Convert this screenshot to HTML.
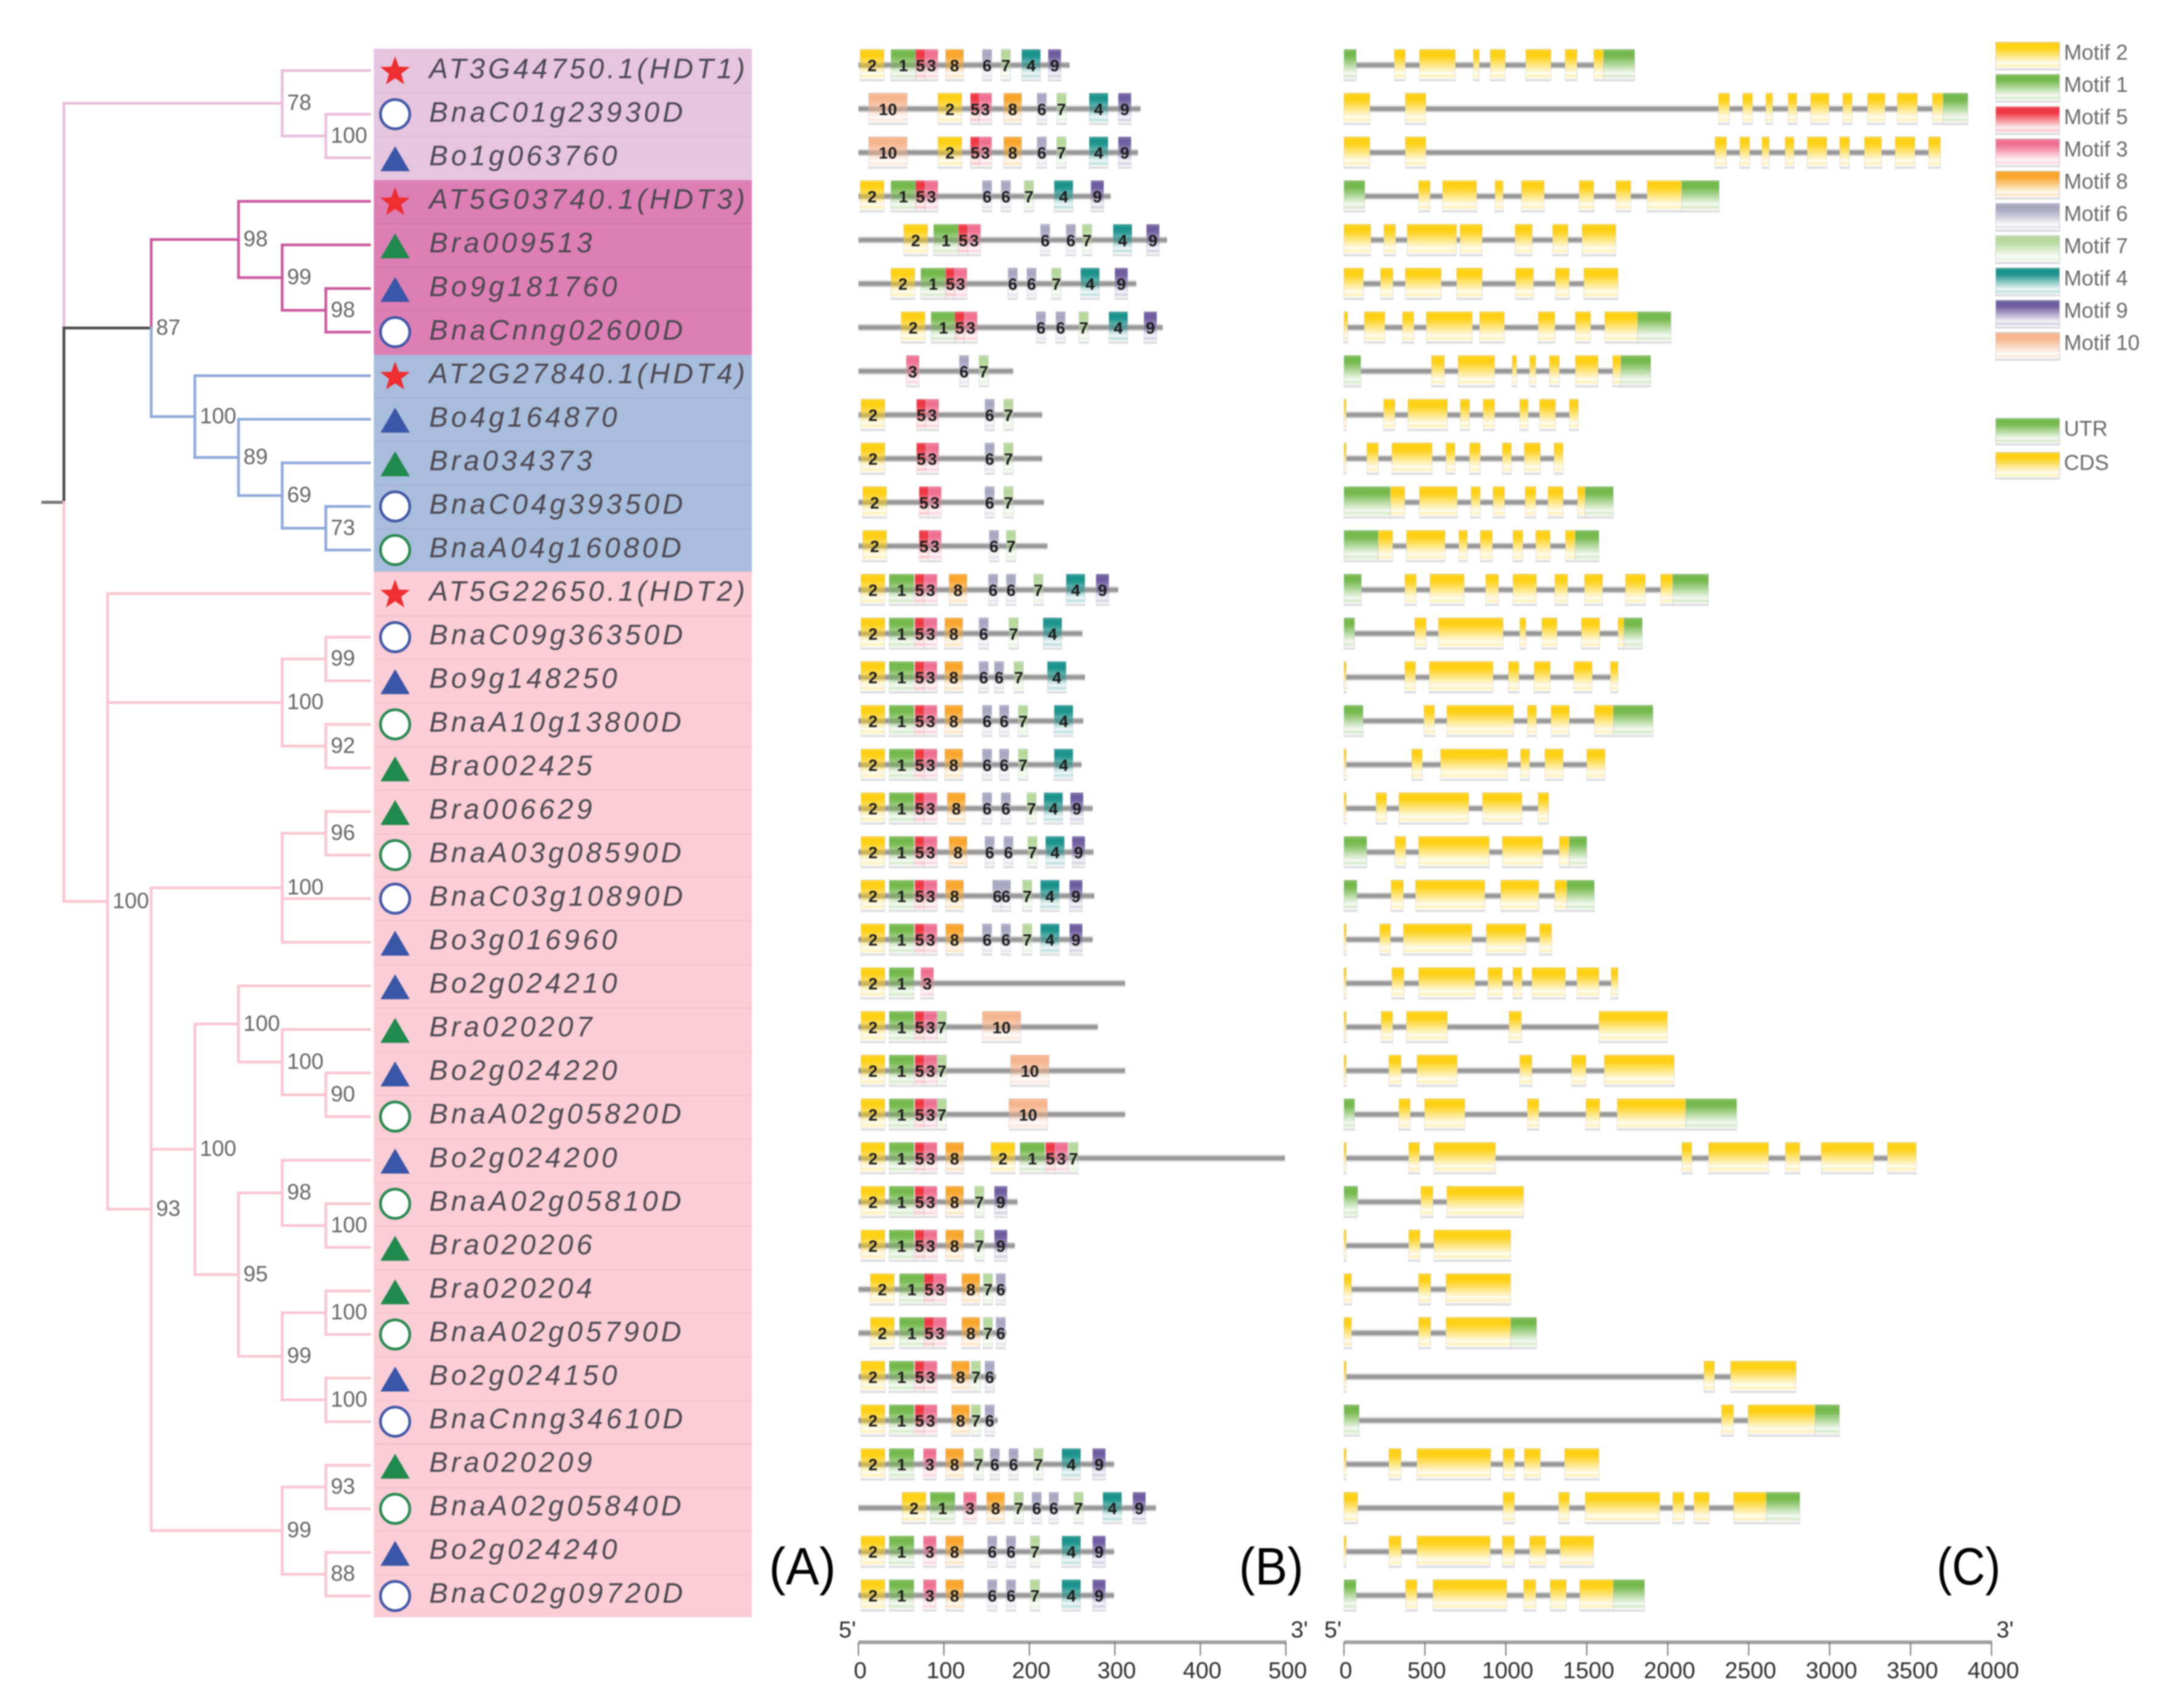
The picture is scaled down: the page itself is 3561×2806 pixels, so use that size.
<!DOCTYPE html>
<html lang="en">
<head>
<meta charset="utf-8">
<title>HDT gene family phylogeny, motifs and gene structure</title>
<style>
html,body{margin:0;padding:0;background:#fff;}
body{width:3561px;height:2806px;overflow:hidden;}
svg{display:block;filter:blur(1.1px);font-family:"Liberation Sans",Arial,sans-serif;}
</style>
</head>
<body>
<svg id="figure" xmlns="http://www.w3.org/2000/svg" width="3561" height="2806" viewBox="0 0 3561 2806">
  <defs id="grads"></defs>
  <rect x="0" y="0" width="3561" height="2806" fill="#ffffff"/>
  <g>
    <rect x="614" y="80" width="621" height="216" fill="#e6c5de"/>
    <rect x="614" y="296" width="621" height="287" fill="#dd7fb4"/>
    <rect x="614" y="583" width="621" height="356" fill="#a8bcdc"/>
    <rect x="614" y="939" width="621" height="1718" fill="#fbcdd6"/>
  </g>
  <g id="tree"></g>
  <g id="labels"></g>
  <g id="motifs"></g>
  <g id="exons"></g>
  <g id="axes"></g>
  <g id="legend"></g>
  <g fill="#000" font-size="86">
    <text x="1263" y="2603" textLength="110" lengthAdjust="spacingAndGlyphs">(A)</text>
    <text x="2035" y="2603" textLength="106" lengthAdjust="spacingAndGlyphs">(B)</text>
    <text x="3181" y="2603" textLength="105" lengthAdjust="spacingAndGlyphs">(C)</text>
  </g>
</svg>
<script>
/* ---------- data ---------- */
const geneNames = ["AT3G44750.1(HDT1)","BnaC01g23930D","Bo1g063760","AT5G03740.1(HDT3)","Bra009513","Bo9g181760","BnaCnng02600D","AT2G27840.1(HDT4)","Bo4g164870","Bra034373","BnaC04g39350D","BnaA04g16080D","AT5G22650.1(HDT2)","BnaC09g36350D","Bo9g148250","BnaA10g13800D","Bra002425","Bra006629","BnaA03g08590D","BnaC03g10890D","Bo3g016960","Bo2g024210","Bra020207","Bo2g024220","BnaA02g05820D","Bo2g024200","BnaA02g05810D","Bra020206","Bra020204","BnaA02g05790D","Bo2g024150","BnaCnng34610D","Bra020209","BnaA02g05840D","Bo2g024240","BnaC02g09720D"];

/* Tree: [depth, bootstrap, clade, children]; a bare number is a gene row */
const tree = [0,'','h1',[
  [5,'78','h1',[0,[6,'100','h1',[1,2]]]],
  [2,'87','dk',[
    [4,'98','h3',[3,[5,'99','h3',[4,[6,'98','h3',[5,6]]]]]],
    [3,'100','h4',[7,[4,'89','h4',[8,[5,'69','h4',[9,[6,'73','h4',[10,11]]]]]]]]
  ]],
  [1,'100','h2',[12,
    [5,'100','h2',[[6,'99','h2',[13,14]],[6,'92','h2',[15,16]]]],
    [2,'93','h2',[
      [5,'100','h2',[[6,'96','h2',[17,18]],19,20]],
      [3,'100','h2',[
        [4,'100','h2',[21,[5,'100','h2',[22,[6,'90','h2',[23,24]]]]]],
        [4,'95','h2',[
          [5,'98','h2',[25,[6,'100','h2',[26,27]]]],
          [5,'99','h2',[[6,'100','h2',[28,29]],[6,'100','h2',[30,31]]]]
        ]]
      ]],
      [5,'99','h2',[[6,'93','h2',[32,33]],[6,'88','h2',[34,35]]]]
    ]]
  ]]
]];

/* protein lengths in aa */
const proteinLengths = [247,330,327,295,361,325,356,181,215,215,217,221,304,262,265,263,261,274,275,276,274,312,280,312,312,499,186,183,173,173,161,163,299,348,299,299];
/* motif id -> motif length in aa */
const motifLengths = {1:29,2:28,3:15,4:22,5:11,6:11,7:11,8:21,9:15,10:45};
/* [motif, start aa] per gene */
const motifHits = [
 [[2,2],[1,38],[5,67],[3,78],[8,102],[6,145],[7,167],[4,191],[9,222]],
 [[10,12],[2,93],[5,131],[3,141],[8,170],[6,209],[7,232],[4,270],[9,304]],
 [[10,12],[2,93],[5,131],[3,141],[8,170],[6,209],[7,232],[4,270],[9,304]],
 [[2,2],[1,38],[5,67],[3,78],[6,145],[6,167],[7,194],[4,229],[9,272]],
 [[2,53],[1,88],[5,117],[3,128],[6,213],[6,243],[7,262],[4,298],[9,337]],
 [[2,38],[1,73],[5,102],[3,112],[6,175],[6,197],[7,226],[4,260],[9,300]],
 [[2,50],[1,85],[5,113],[3,124],[6,208],[6,231],[7,258],[4,293],[9,334]],
 [[3,56],[6,118],[7,141]],
 [[2,3],[5,68],[3,79],[6,148],[7,170]],
 [[2,3],[5,68],[3,79],[6,148],[7,170]],
 [[2,5],[5,71],[3,82],[6,148],[7,170]],
 [[2,5],[5,71],[3,82],[6,153],[7,173]],
 [[2,3],[1,36],[5,66],[3,77],[8,106],[6,152],[6,173],[7,205],[4,243],[9,278]],
 [[2,3],[1,36],[5,66],[3,77],[8,101],[6,141],[7,176],[4,216]],
 [[2,3],[1,36],[5,66],[3,77],[8,101],[6,141],[6,159],[7,182],[4,221]],
 [[2,3],[1,36],[5,66],[3,77],[8,101],[6,145],[6,165],[7,187],[4,229]],
 [[2,3],[1,36],[5,66],[3,77],[8,101],[6,145],[6,165],[7,187],[4,229]],
 [[2,3],[1,36],[5,66],[3,77],[8,104],[6,145],[6,167],[7,197],[4,217],[9,248]],
 [[2,3],[1,36],[5,66],[3,77],[8,106],[6,148],[6,170],[7,198],[4,219],[9,250]],
 [[2,3],[1,36],[5,66],[3,77],[8,102],[6,157],[6,167],[7,192],[4,213],[9,247]],
 [[2,3],[1,36],[5,66],[3,77],[8,102],[6,145],[6,167],[7,192],[4,213],[9,247]],
 [[2,3],[1,36],[3,73]],
 [[2,3],[1,36],[5,66],[3,77],[7,92],[10,145]],
 [[2,3],[1,36],[5,66],[3,77],[7,92],[10,178]],
 [[2,3],[1,36],[5,66],[3,77],[7,92],[10,176]],
 [[2,3],[1,36],[5,66],[3,77],[8,102],[2,155],[1,189],[5,219],[3,230],[7,246]],
 [[2,3],[1,36],[5,66],[3,77],[8,102],[7,136],[9,159]],
 [[2,3],[1,36],[5,66],[3,77],[8,102],[7,136],[9,159]],
 [[2,14],[1,48],[5,77],[3,88],[8,121],[7,146],[6,161]],
 [[2,14],[1,48],[5,77],[3,88],[8,121],[7,146],[6,161]],
 [[2,3],[1,36],[5,66],[3,77],[8,109],[7,132],[6,148]],
 [[2,3],[1,36],[5,66],[3,77],[8,109],[7,132],[6,148]],
 [[2,3],[1,36],[3,76],[8,102],[7,135],[6,154],[6,176],[7,205],[4,238],[9,274]],
 [[2,51],[1,84],[3,123],[8,150],[7,182],[6,203],[6,223],[7,252],[4,286],[9,321]],
 [[2,3],[1,36],[3,76],[8,102],[6,151],[6,173],[7,201],[4,238],[9,274]],
 [[2,3],[1,36],[3,76],[8,102],[6,151],[6,173],[7,201],[4,238],[9,274]]
];

/* [kind, start bp, end bp] per gene; u = UTR, c = CDS */
const exonSpans = [
 [['u',0,76],['c',311,379],['c',466,688],['c',799,836],['c',904,997],['c',1123,1279],['c',1366,1440],['c',1543,1603],['u',1603,1796]],
 [['c',0,160],['c',379,506],['c',2313,2382],['c',2463,2524],['c',2606,2648],['c',2743,2798],['c',2883,2996],['c',3081,3139],['c',3234,3342],['c',3418,3542],['c',3635,3701],['u',3701,3854]],
 [['c',0,160],['c',379,506],['c',2292,2363],['c',2445,2506],['c',2582,2627],['c',2725,2780],['c',2862,2983],['c',3062,3123],['c',3215,3321],['c',3405,3527],['c',3611,3685]],
 [['u',0,129],['c',461,532],['c',609,820],['c',933,983],['c',1097,1237],['c',1453,1543],['c',1680,1772],['c',1873,2086],['u',2086,2318]],
 [['c',0,166],['c',247,319],['c',390,696],['c',717,854],['c',1057,1163],['c',1289,1384],['c',1471,1680]],
 [['c',0,121],['c',226,303],['c',379,601],['c',696,854],['c',1060,1171],['c',1305,1392],['c',1482,1693]],
 [['c',0,23],['c',126,253],['c',361,432],['c',509,793],['c',838,991],['c',1200,1303],['c',1429,1524],['c',1611,1814],['u',1814,2020]],
 [['u',0,104],['c',541,621],['c',705,931],['c',1039,1067],['c',1147,1185],['c',1269,1330],['c',1429,1570],['c',1660,1711],['u',1711,1895]],
 [['c',0,14],['c',245,315],['c',395,639],['c',719,776],['c',860,931],['c',1086,1138],['c',1208,1307],['c',1392,1448]],
 [['c',0,14],['c',141,212],['c',296,545],['c',630,686],['c',776,842],['c',978,1034],['c',1114,1213],['c',1298,1354]],
 [['u',0,287],['c',287,376],['c',466,700],['c',785,842],['c',921,992],['c',1119,1185],['c',1260,1354],['c',1443,1490],['u',1490,1664]],
 [['u',0,212],['c',212,301],['c',386,625],['c',710,762],['c',842,917],['c',1044,1105],['c',1185,1274],['c',1368,1429],['u',1429,1575]],
 [['u',0,108],['c',376,447],['c',531,743],['c',875,955],['c',1044,1189],['c',1302,1382],['c',1486,1598],['c',1739,1862],['c',1956,2031],['u',2031,2252]],
 [['u',0,66],['c',437,508],['c',583,983],['c',1086,1124],['c',1222,1316],['c',1467,1580],['c',1693,1730],['u',1730,1843]],
 [['c',0,14],['c',376,442],['c',527,921],['c',1016,1081],['c',1175,1274],['c',1420,1533],['c',1646,1693]],
 [['u',0,118],['c',494,560],['c',635,1048],['c',1133,1189],['c',1279,1392],['c',1547,1664],['u',1664,1909]],
 [['c',0,14],['c',419,484],['c',597,1011],['c',1091,1147],['c',1241,1354],['c',1500,1613]],
 [['c',0,14],['c',198,263],['c',339,771],['c',856,1100],['c',1199,1265]],
 [['u',0,141],['c',315,381],['c',461,898],['c',978,1227],['c',1330,1392],['u',1392,1500]],
 [['u',0,80],['c',291,367],['c',442,870],['c',968,1204],['c',1302,1377],['u',1377,1547]],
 [['c',0,14],['c',221,287],['c',367,790],['c',879,1124],['c',1208,1283]],
 [['c',0,14],['c',296,371],['c',461,809],['c',889,978],['c',1044,1100],['c',1161,1368],['c',1439,1575],['c',1650,1693]],
 [['c',0,14],['c',230,301],['c',386,639],['c',1020,1096],['c',1575,1998]],
 [['c',0,14],['c',277,353],['c',451,700],['c',1086,1161],['c',1406,1495],['c',1608,2040]],
 [['u',0,66],['c',339,409],['c',498,747],['c',1133,1204],['c',1495,1580],['c',1688,2111],['u',2111,2426]],
 [['c',0,14],['c',400,466],['c',555,936],['c',2087,2149],['c',2252,2623],['c',2727,2816],['c',2948,3272],['c',3357,3535]],
 [['u',0,85],['c',475,550],['c',635,1110]],
 [['c',0,14],['c',400,470],['c',555,1030]],
 [['c',0,47],['c',461,536],['c',630,1030]],
 [['c',0,47],['c',461,536],['c',630,1030],['u',1030,1190]],
 [['c',0,14],['c',2224,2289],['c',2388,2793]],
 [['u',0,94],['c',2332,2407],['c',2496,2910],['u',2910,3061]],
 [['c',0,14],['c',277,353],['c',451,907],['c',983,1053],['c',1114,1213],['c',1363,1575]],
 [['c',0,85],['c',983,1053],['c',1326,1392],['c',1490,1951],['c',2031,2101],['c',2162,2256],['c',2407,2609],['u',2609,2816]],
 [['c',0,14],['c',277,353],['c',451,903],['c',978,1053],['c',1147,1246],['c',1335,1542]],
 [['u',0,75],['c',381,451],['c',550,1006],['c',1110,1185],['c',1274,1373],['c',1457,1664],['u',1664,1857]]
];

const motifAxisTicks = [0,100,200,300,400,500];
const geneAxisTicks = [0,500,1000,1500,2000,2500,3000,3500,4000];
const motifLegendOrder = [2,1,5,3,8,6,7,4,9,10];
const structureLegendOrder = ['u','c'];
const structureLegendNames = {u:'UTR',c:'CDS'};

const markColors = {1:'#72b84a',2:'#ffd010',3:'#f06e90',4:'#17918a',5:'#ef3340',6:'#a7a5c0',7:'#b5d89a',8:'#f9a428',9:'#6b5a9e',10:'#f6b48c',u:'#72b84a',c:'#ffd010'};
const cladeColors = {h1:'#e9bfda',h3:'#cb5a9f',h4:'#8faad9',h2:'#f9c6d2',dk:'#4a4a4a'};

/* ---------- scales ---------- */
const treeX = d => 105 + 71.7 * d;
const treeY = r => 116 + 71.6 * r;
const labelBase = r => 128.5 + 71.55 * r;
const rowY = r => 107 + 71.83 * r;
const motifX = a => 1410 + 1.404 * a;
const geneX = b => 2207.5 + 0.2659 * b;
const LEAF_DEPTH = 7;
const BLOCK_TOP = -26, BLOCK_H = 52;

const NS = 'http://www.w3.org/2000/svg';
function mk(tag, attrs, parent, txt){
  const e = document.createElementNS(NS, tag);
  for(const k in attrs) e.setAttribute(k, attrs[k]);
  if(txt !== undefined) e.textContent = txt;
  parent.appendChild(e);
  return e;
}

/* ---------- gradients ---------- */
const defs = document.getElementById('grads');
Object.keys(markColors).forEach(k => {
  const g = mk('linearGradient', {id:'grad-'+k, x1:0, y1:0, x2:0, y2:1}, defs);
  [[0,markColors[k],.82],[.12,markColors[k],1],[.24,markColors[k],.95],[.78,markColors[k],.05],[.92,'#ffffff',1],[.95,'#e4e4e6',1],[1,'#dcdce0',1]].forEach(s => {
    mk('stop', {offset:s[0], 'stop-color':s[1], 'stop-opacity':s[2]}, g);
  });
});

/* ---------- tree ---------- */
const treeG = document.getElementById('tree');
function nodeY(n){
  if(typeof n === 'number') return treeY(n);
  const kids = n[3];
  return (nodeY(kids[0]) + nodeY(kids[kids.length-1])) / 2;
}
function branch(x1,y1,x2,y2,color,name){
  const l = mk('line', {x1:x1,y1:y1,x2:x2,y2:y2,stroke:color,'stroke-width':4.5,'stroke-linecap':'square'}, treeG);
  
  
}
const bootstrapLabels = [];
function drawNode(n){
  const x = treeX(n[0]), y = nodeY(n);
  n[3].forEach(k => {
    const leaf = typeof k === 'number';
    const color = leaf ? cladeColors[n[2]] : cladeColors[k[2]];
    const kx = leaf ? treeX(LEAF_DEPTH) : treeX(k[0]);
    const ky = nodeY(k);
    branch(x, y, x, ky, color, 'tree-branch-vertical');
    branch(x, ky, kx, ky, color, leaf ? 'tree-leaf-branch' : 'tree-branch-horizontal');
    if(!leaf) drawNode(k);
  });
  if(n[1]) bootstrapLabels.push([n[1], x, y]);
}
const rootStub = mk('line', {x1:68,y1:nodeY(tree),x2:treeX(0),y2:nodeY(tree),stroke:'#777','stroke-width':5}, treeG);


drawNode(tree);
bootstrapLabels.forEach(b => {
  const t = mk('text', {x:b[1]+8, y:b[2]+11, 'font-size':36, fill:'#666'}, treeG, b[0]);
  
  
});

/* ---------- labels and species symbols ---------- */
const labelG = document.getElementById('labels');
geneNames.forEach((name,i) => {
  if(i > 0 && i !== 3 && i !== 7 && i !== 12){
    const sep = mk('rect', {x:614, y:treeY(i)-36, width:621, height:2, fill:'#000', opacity:.035}, labelG);
    
    
  }
  const cy = treeY(i), cx = 649;
  let sym;
  if(name.startsWith('AT')){
    const pts = [];
    for(let p=0;p<10;p++){
      const r = p%2 ? 10.5 : 25.5, a = -Math.PI/2 + p*Math.PI/5;
      pts.push((cx + r*Math.cos(a)).toFixed(1) + ',' + (cy + 2 + r*Math.sin(a)).toFixed(1));
    }
    sym = mk('polygon', {points:pts.join(' '), fill:'#ee2e30'}, labelG);
    
  } else if(name.startsWith('Bna')){
    const col = name.startsWith('BnaA') ? '#2a8a52' : '#4358a8';
    sym = mk('circle', {cx:cx, cy:cy, r:24, fill:'#fff', stroke:col, 'stroke-width':4.5}, labelG);
    
  } else {
    const col = name.startsWith('Bra') ? '#1f8a4c' : '#3a56a8';
    sym = mk('polygon', {points:`${cx},${cy-19} ${cx+24},${cy+22} ${cx-24},${cy+22}`, fill:col}, labelG);
    
  }
  
  const t = mk('text', {x:705, y:labelBase(i), 'font-size':46, 'font-style':'italic', 'letter-spacing':5.3, fill:'#4c4852'}, labelG, name);
  
  
});

/* ---------- motif panel ---------- */
const motifG = document.getElementById('motifs');
function backbone(parent, x1, x2, y, name){
  const halo = mk('rect', {x:x1, y:y-6, width:x2-x1, height:12, fill:'#dcdcdc'}, parent);
  
  
  const core = mk('rect', {x:x1, y:y-3.5, width:x2-x1, height:7, fill:'#999'}, parent);
  
  
}
motifHits.forEach((hits,i) => {
  const y = rowY(i);
  backbone(motifG, motifX(0), motifX(proteinLengths[i]), y, 'protein-line');
  hits.forEach(h => {
    const x0 = motifX(h[1]), x1 = motifX(h[1] + motifLengths[h[0]]);
    const r = mk('rect', {x:x0, y:y+BLOCK_TOP, width:x1-x0, height:BLOCK_H, fill:'url(#grad-'+h[0]+')', stroke:'#bcbcc4','stroke-opacity':.3,'stroke-width':1.5}, motifG);
    
    
  });
  hits.forEach(h => {
    const cx = (motifX(h[1]) + motifX(h[1] + motifLengths[h[0]])) / 2;
    const t = mk('text', {x:cx, y:y+10, 'font-size':27, 'font-weight':'bold', 'text-anchor':'middle', fill:'#1c1c1c'}, motifG, h[0]);
    
    
  });
});

/* ---------- gene structure panel ---------- */
const exonG = document.getElementById('exons');
exonSpans.forEach((spans,i) => {
  const y = rowY(i);
  const end = spans[spans.length-1][2];
  backbone(exonG, geneX(0), geneX(end), y, 'intron-line');
  spans.forEach(s => {
    const x0 = geneX(s[1]), x1 = geneX(s[2]);
    const under = mk('rect', {x:x0, y:y+BLOCK_TOP, width:x1-x0, height:BLOCK_H, fill:'#fff'}, exonG);
    
    
    const r = mk('rect', {x:x0, y:y+BLOCK_TOP, width:x1-x0, height:BLOCK_H, fill:'url(#grad-'+s[0]+')', stroke:'#bcbcc4','stroke-opacity':.3,'stroke-width':1.5}, exonG);
    
    
  });
});

/* ---------- axes ---------- */
const axesG = document.getElementById('axes');
const AXIS_Y = 2698;
function drawAxis(ticks, scale, name){
  const first = scale(ticks[0]), last = scale(ticks[ticks.length-1]);
  const line = mk('rect', {x:first, y:AXIS_Y-3, width:last-first+1, height:6, fill:'#a0a0a0'}, axesG);
  
  
  ticks.forEach(v => {
    const x = scale(v);
    const tk = mk('line', {x1:x, y1:AXIS_Y, x2:x, y2:AXIS_Y+22, stroke:'#777', 'stroke-width':2}, axesG);
    
    
    const t = mk('text', {x:x+3, y:AXIS_Y+59, 'font-size':38, 'text-anchor':'middle', fill:'#2e2e2e'}, axesG, v);
    
    
  });
  const five = mk('text', {x:first-4, y:AXIS_Y-8, 'font-size':38, 'text-anchor':'end', fill:'#2e2e2e'}, axesG, "5'");
  
  
  const three = mk('text', {x:last+8, y:AXIS_Y-8, 'font-size':38, fill:'#2e2e2e'}, axesG, "3'");
  
  
}
drawAxis(motifAxisTicks, motifX, 'motif-axis');
drawAxis(geneAxisTicks, geneX, 'gene-axis');

/* ---------- legend ---------- */
const legendG = document.getElementById('legend');
function legendEntry(key, text, top, h){
  const r = mk('rect', {x:3278, y:top, width:105, height:h, fill:'url(#grad-'+key+')', stroke:'#c8c8cc','stroke-opacity':.45,'stroke-width':2}, legendG);
  
  
  const t = mk('text', {x:3390, y:top+29, 'font-size':35, fill:'#6a6a6a'}, legendG, text);
  
  
}
motifLegendOrder.forEach((m,i) => legendEntry(m, 'Motif ' + m, 69 + 53*i, 46));
structureLegendOrder.forEach((k,i) => legendEntry(k, structureLegendNames[k], 687 + 56*i, 44));
</script>
</body>
</html>
